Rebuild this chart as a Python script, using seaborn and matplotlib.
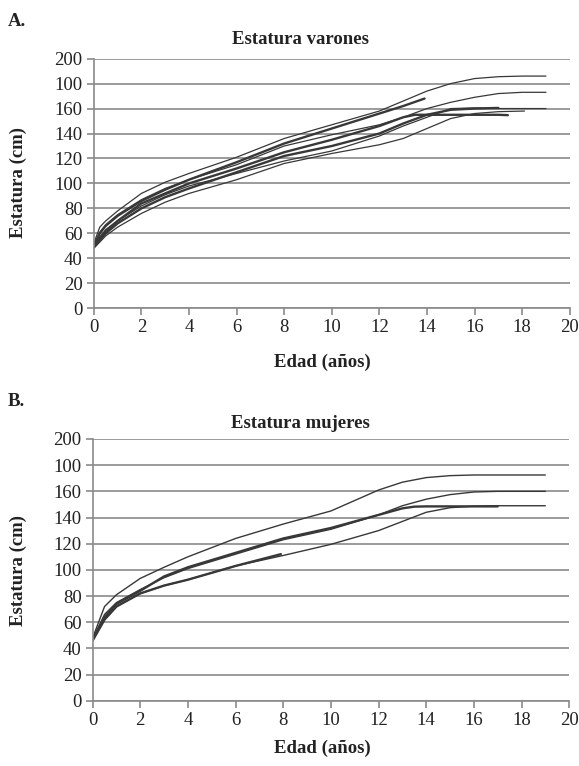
import pandas as pd
import matplotlib.pyplot as plt
import seaborn as sns

# tick labels as printed in the original (180 shows as "100")
y_ticks = [0, 20, 40, 60, 80, 100, 120, 140, 160, 180, 200]
y_labels = ['0', '20', '40', '60', '80', '100', '120', '140', '160', '100', '200']
x_ticks = [0, 2, 4, 6, 8, 10, 12, 14, 16, 18, 20]

# Panel A - varones (age, height)
a1_age = [0, 0.25, 0.5, 1, 2, 3, 4, 6, 8, 10, 12, 13, 14, 15, 16, 17, 18, 19]
a1_h = [52, 65, 70, 78, 92, 101, 108, 121, 136, 147, 158, 166, 174, 180, 184, 185.5, 186, 186]
a2_age = [0, 0.25, 0.5, 1, 2, 3, 4, 6, 8, 10, 12, 13, 14, 15, 16, 17, 18, 19]
a2_h = [50, 61, 67, 75, 87, 96, 103, 115, 130, 139, 147, 153, 160, 165, 169, 172, 173, 173]
a3_age = [0, 0.25, 0.5, 1, 2, 3, 4, 6, 8, 10, 12, 13, 13.9]
a3_h = [50, 60, 66, 74, 86, 95, 103, 117, 132, 144, 156, 162, 168]
a4_age = [0, 0.5, 1, 2, 3, 4, 6, 8, 10, 12, 13, 14, 15, 16, 17, 18, 19]
a4_h = [50, 63, 70, 82, 91, 98, 108, 118, 126, 138, 146, 153, 160, 160.5, 160, 160, 160]
a5_age = [0, 0.5, 1, 2, 3, 4, 6, 8, 10, 12, 13, 14, 15, 16, 17]
a5_h = [49, 60, 68, 80, 89, 96, 109, 122, 130, 140, 148, 155, 159, 160, 160.5]
a6_age = [0, 0.5, 1, 2, 3, 4, 6, 8, 10, 12, 13, 13.5, 15, 16, 17, 17.4]
a6_h = [51, 62, 70, 84, 92, 100, 112, 125, 135, 146, 153, 155, 155, 155, 155, 154.7]
a7_age = [0, 0.5, 1, 2, 3, 4, 6, 8, 10, 12, 13, 14, 15, 16, 17, 18.1]
a7_h = [48, 58, 65, 76, 85, 92, 103, 116, 124, 131, 136, 144, 152, 156, 157.5, 158]

# Panel B - mujeres
b1_age = [0, 0.5, 1, 2, 3, 4, 6, 8, 10, 12, 13, 14, 15, 16, 17, 18, 19]
b1_h = [48, 72, 81, 93.5, 102, 110, 124, 135, 145, 161, 167, 170.5, 172, 172.5, 172.5, 172.5, 172.5]
b2_age = [0, 0.5, 1, 2, 3, 4, 6, 8, 10, 12, 13, 14, 15, 16, 17, 18, 19]
b2_h = [47, 66, 75, 85, 94, 101, 112, 123, 131, 142, 149, 154, 157.5, 159.5, 160, 160, 160]
b3_age = [0, 0.5, 1, 2, 3, 4, 6, 8, 10, 12, 13, 13.5, 14, 15, 16, 17]
b3_h = [47, 64, 74, 84, 95, 102, 113, 124, 132, 142, 147, 148.3, 148.5, 148.5, 148.5, 148.5]
b4_age = [0, 0.5, 1, 2, 3, 4, 6, 8, 10, 12, 13, 14, 15, 16, 17, 18, 19]
b4_h = [46, 62, 72, 82, 88, 92.5, 103, 111, 119.5, 130, 137, 144, 147.5, 148.7, 149, 149, 149]
b5_age = [0, 0.5, 1, 2, 3, 4, 6, 7.9]
b5_h = [46, 62, 72, 82, 88, 92.5, 103, 112]

panel_a = [(a1_age, a1_h, 0.9), (a2_age, a2_h, 0.9), (a3_age, a3_h, 1.7),
           (a4_age, a4_h, 0.9), (a5_age, a5_h, 1.7), (a6_age, a6_h, 1.7),
           (a7_age, a7_h, 0.9)]
panel_b = [(b1_age, b1_h, 1.0), (b2_age, b2_h, 1.0), (b3_age, b3_h, 1.7),
           (b4_age, b4_h, 1.0), (b5_age, b5_h, 1.7)]

sns.set_style('white')
plt.rcParams['font.family'] = ['Liberation Serif', 'DejaVu Serif']

fig = plt.figure(figsize=(5.79, 7.66), dpi=100)
ax_a = fig.add_axes([0.162, 0.5975, 0.822, 0.326])
ax_b = fig.add_axes([0.160, 0.0852, 0.823, 0.3417])

grid_col = '#8a8a8a'
line_col = '#383838'


def draw_panel(ax, curves):
    for age, h, lw in curves:
        df = pd.DataFrame({'Edad': age, 'Estatura': h})
        sns.lineplot(data=df, x='Edad', y='Estatura', ax=ax, color=line_col,
                     linewidth=lw, estimator=None, sort=False)
    ax.set_xlim(0, 20)
    ax.set_ylim(0, 200)
    ax.set_xticks(x_ticks)
    ax.set_yticks(y_ticks)
    ax.set_yticklabels(y_labels)
    ax.yaxis.grid(True, color=grid_col, linewidth=1.2)
    ax.set_axisbelow(True)
    for s in ['top', 'right']:
        ax.spines[s].set_visible(False)
    for s in ['left', 'bottom']:
        ax.spines[s].set_color(grid_col)
        ax.spines[s].set_linewidth(1.2)
    ax.tick_params(axis='both', which='major', direction='out', length=5,
                   width=1.2, color=grid_col, labelsize=13.5, labelcolor='#222222',
                   left=True, bottom=True, pad=3)
    ax.set_xlabel('')
    ax.set_ylabel('')


draw_panel(ax_a, panel_a)
draw_panel(ax_b, panel_b)

txt = dict(fontsize=13.5, fontweight='bold', color='#222222')
fig.text(8 / 579, 1 - 22 / 766, 'A.', ha='left', va='center', **txt)
fig.text(300 / 579, 1 - 40 / 766, 'Estatura varones', ha='center', va='center', **txt)
fig.text(18 / 579, 1 - 183 / 766, 'Estatura (cm)', rotation=90, ha='center', va='center', **txt)
fig.text(322 / 579, 1 - 362 / 766, 'Edad (años)', ha='center', va='center', **txt)

fig.text(8 / 579, 1 - 402 / 766, 'B.', ha='left', va='center', **txt)
fig.text(300 / 579, 1 - 424 / 766, 'Estatura mujeres', ha='center', va='center', **txt)
fig.text(18 / 579, 1 - 570 / 766, 'Estatura (cm)', rotation=90, ha='center', va='center', **txt)
fig.text(322 / 579, 1 - 748 / 766, 'Edad (años)', ha='center', va='center', **txt)

fig.savefig('out.png', dpi=100)
